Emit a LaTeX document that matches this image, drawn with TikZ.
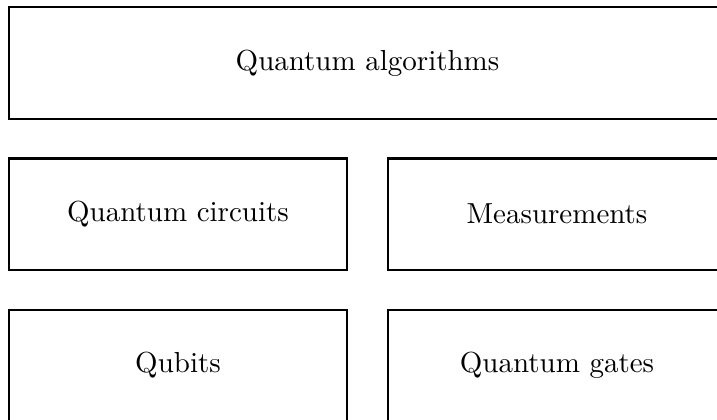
\documentclass[tikz,border=0pt]{standalone}
\begin{document}
\begin{tikzpicture}[x=0.345pt,y=-0.345pt,
  box/.style={draw=black,line width=0.7pt,fill=white,inner sep=0pt,
    minimum width=116.6pt,minimum height=38.3pt},
  wide/.style={box,minimum width=247.4pt,minimum height=38.5pt}]
\useasboundingbox (0,0) rectangle (717,419);
\clip (0,0) rectangle (717,419);
\fill[white] (0,0) rectangle (717,419);
\node[wide] (alg) at (367.5,62.8) {Quantum algorithms};
\node[box] (circ) at (178,214) {Quantum circuits};
\node[box] (meas) at (557,214) {Measurements};
\node[box] (qub) at (178,365.5) {Qubits};
\node[box] (gates) at (557,365.5) {Quantum gates};
\end{tikzpicture}
\end{document}
